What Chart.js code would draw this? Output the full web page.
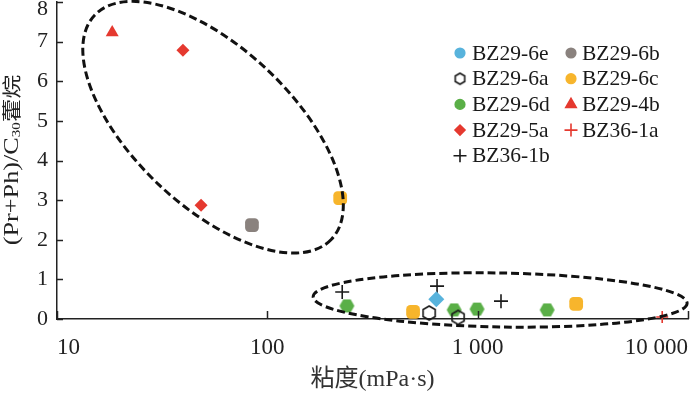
<!DOCTYPE html>
<html>
<head>
<meta charset="utf-8">
<script src="https://cdn.jsdelivr.net/npm/chart.js@4.4.1/dist/chart.umd.min.js"></script>
<style>
html,body{margin:0;padding:0;background:#fff}
canvas{display:block}
</style>
</head>
<body>
<canvas id="myScatter" width="700" height="394"></canvas>
<script>
// legend order, row by row
var seriesNames = ['BZ29-6e','BZ29-6b','BZ29-6a','BZ29-6c','BZ29-6d','BZ29-4b','BZ29-5a','BZ36-1a','BZ36-1b'];

// viscosity (mPa·s) / (Pr+Ph)/C30 hopane
var bz296e_x = [636],                 bz296e_y = [0.50];
var bz296b_x = [84.5],                bz296b_y = [2.37];
var bz296a_x = [588, 807],            bz296a_y = [0.15, 0.04];
var bz296c_x = [222, 493, 2940],      bz296c_y = [3.05, 0.18, 0.38];
var bz296d_x = [239, 773, 993, 2140], bz296d_y = [0.33, 0.23, 0.25, 0.23];
var bz294b_x = [18.3],                bz294b_y = [7.23];
var bz295a_x = [39.7, 48.4],          bz295a_y = [6.78, 2.87];
var bz361a_x = [7540],                bz361a_y = [0.05];
var bz361b_x = [227, 641, 1291],      bz361b_y = [0.68, 0.83, 0.45];

var xTicks = [10, 100, 1000, 10000];
var xTickLabels = ['10', '100', '1 000', '10 000'];
var yTicks = [0, 1, 2, 3, 4, 5, 6, 7, 8];

// dashed groupings: centre in data units, radii in px
var rings = [
    {cx: 55.2, cy: 4.84, rx: 163, ry: 79, rot: 43.4},
    {cx: 1279, cy: 0.48, rx: 187, ry: 27, rot: 1}
];

var serif = "'Liberation Serif', 'Noto Sans CJK SC', serif";
var axisColor = '#222';

function pts(xs, ys) {
    return xs.map(function (x, i) { return {x: x, y: ys[i]}; });
}

function hexagon(r, fill, stroke, turn) {
    var c = document.createElement('canvas');
    var s = Math.ceil(r * 2 + 4);
    c.width = s; c.height = s;
    var g = c.getContext('2d');
    g.beginPath();
    for (var k = 0; k < 6; k++) {
        var a = Math.PI / 3 * k + (turn || 0);
        var px = s / 2 + r * Math.cos(a), py = s / 2 + r * Math.sin(a);
        if (k) g.lineTo(px, py); else g.moveTo(px, py);
    }
    g.closePath();
    if (fill) { g.fillStyle = fill; g.fill(); }
    if (stroke) { g.lineWidth = 1.6; g.strokeStyle = stroke; g.stroke(); }
    return c;
}

var blue = '#58b3dc', gray = '#8a827e', orange = '#f7b52c', green = '#5aaf47', red = '#e5392f', black = '#1a1a1a';

function series(i, xs, ys, style, radius, color, fillIt, lgStyle, lgRadius) {
    return {
        label: seriesNames[i],
        data: pts(xs, ys),
        pointStyle: style,
        pointRadius: radius,
        pointHoverRadius: radius,
        backgroundColor: fillIt ? color : 'rgba(0,0,0,0)',
        borderColor: color,
        borderWidth: fillIt ? 0 : 1.6,
        clip: false,
        lgStyle: lgStyle,
        lgRadius: lgRadius
    };
}

var datasets = [
    series(0, bz296e_x, bz296e_y, 'rectRot', 8, blue, true, 'circle', 4.8),
    series(1, bz296b_x, bz296b_y, 'rectRounded', 8, gray, true, 'circle', 4.8),
    series(2, bz296a_x, bz296a_y, hexagon(7, null, black, Math.PI / 6), 7, black, false, hexagon(5.5, null, black, Math.PI / 6), 5.5),
    series(3, bz296c_x, bz296c_y, 'rectRounded', 8, orange, true, 'circle', 4.8),
    series(4, bz296d_x, bz296d_y, hexagon(7.5, green, null, 0), 7.5, green, true, 'circle', 4.8),
    series(5, bz294b_x, bz294b_y, 'triangle', 7.5, red, true, 'triangle', 6),
    series(6, bz295a_x, bz295a_y, 'rectRot', 6.5, red, true, 'rectRot', 5),
    series(7, bz361a_x, bz361a_y, 'cross', 6, red, false, 'cross', 6.5),
    series(8, bz361b_x, bz361b_y, 'cross', 7, black, false, 'cross', 6.5)
];

var decorations = {
    id: 'decorations',
    afterDatasetsDraw: function (chart) {
        var ctx = chart.ctx, xs = chart.scales.x, ys = chart.scales.y;
        ctx.save();
        ctx.strokeStyle = '#111';
        ctx.lineWidth = 3;
        ctx.setLineDash([8, 4]);
        rings.forEach(function (r) {
            ctx.beginPath();
            ctx.ellipse(xs.getPixelForValue(r.cx), ys.getPixelForValue(r.cy), r.rx, r.ry, r.rot * Math.PI / 180, 0, Math.PI * 2);
            ctx.stroke();
        });
        ctx.restore();
    },
    afterDraw: function (chart) {
        var ctx = chart.ctx, xs = chart.scales.x, ys = chart.scales.y, a = chart.chartArea;
        ctx.save();
        // inward tick marks
        ctx.strokeStyle = axisColor;
        ctx.lineWidth = 1.5;
        ctx.beginPath();
        yTicks.forEach(function (v) {
            var py = Math.round(ys.getPixelForValue(v)) + 0.5;
            ctx.moveTo(a.left, py); ctx.lineTo(a.left + 6, py);
        });
        xTicks.forEach(function (v) {
            var px = Math.round(xs.getPixelForValue(v)) + 0.5;
            ctx.moveTo(px, a.bottom); ctx.lineTo(px, a.bottom - 8);
        });
        ctx.stroke();

        // y tick labels
        ctx.fillStyle = axisColor;
        ctx.font = '22px ' + serif;
        ctx.textAlign = 'right';
        ctx.textBaseline = 'middle';
        yTicks.forEach(function (v) {
            ctx.fillText(String(v), a.left - 9, Math.max(ys.getPixelForValue(v), 9));
        });

        // y title with subscript, stretched along its length like the source
        ctx.translate(12, 160);
        ctx.rotate(-Math.PI / 2);
        ctx.scale(1.25, 1);
        var parts = [
            {t: '(Pr+Ph)/C', f: '21px ' + serif, dy: 0},
            {t: '30', f: '12px ' + serif, dy: 5},
            {t: '藿烷', f: "19px 'Noto Sans CJK SC', serif", dy: 0}
        ];
        var total = 0;
        parts.forEach(function (p) { ctx.font = p.f; p.w = ctx.measureText(p.t).width; total += p.w; });
        var x0 = -total / 2;
        ctx.textAlign = 'left';
        parts.forEach(function (p) {
            ctx.font = p.f;
            ctx.fillText(p.t, x0, p.dy);
            x0 += p.w;
        });
        ctx.restore();

        // legend, two columns
        ctx.save();
        ctx.font = '21.5px ' + serif;
        ctx.textBaseline = 'middle';
        ctx.textAlign = 'left';
        chart.data.datasets.forEach(function (ds, i) {
            var col = i % 2, row = Math.floor(i / 2);
            var mx = 460 + col * 111, my = 53 + row * 25.7;
            ctx.fillStyle = ds.borderColor;
            ctx.strokeStyle = ds.borderColor;
            ctx.lineWidth = 1.6;
            Chart.helpers.drawPoint(ctx, {pointStyle: ds.lgStyle, radius: ds.lgRadius, rotation: 0, borderWidth: 1.6}, mx, my);
            ctx.fillStyle = '#1a1a1a';
            ctx.fillText(ds.label, 472 + col * 110, my + 1);
        });
        ctx.restore();
    }
};

var ctx = document.getElementById('myScatter');
var myChart = new Chart(ctx, {
    type: 'scatter',
    data: {datasets: datasets},
    options: {
        responsive: false,
        animation: false,
        events: [],
        layout: {autoPadding: false, padding: {top: 2, right: 12, left: 0, bottom: 0}},
        plugins: {legend: {display: false}, tooltip: {enabled: false}},
        scales: {
            x: {
                type: 'logarithmic',
                min: 10,
                max: 10000,
                afterBuildTicks: function (scale) {
                    scale.ticks = xTicks.map(function (v) { return {value: v}; });
                },
                afterFit: function (scale) {
                    scale.height = 75;
                    scale.paddingLeft = 0;
                    scale.paddingRight = 0;
                    scale.paddingTop = 0;
                    scale.paddingBottom = 0;
                },
                grid: {display: false, drawTicks: false},
                border: {display: true, color: axisColor, width: 1.5},
                ticks: {
                    autoSkip: false,
                    maxRotation: 0,
                    align: 'inner',
                    padding: 15,
                    color: axisColor,
                    font: {family: serif, size: 23},
                    callback: function (v, i) { return xTickLabels[i]; }
                },
                title: {
                    display: true,
                    text: '粘度(mPa·s)',
                    color: '#333',
                    font: {family: serif, size: 24},
                    padding: {top: 0, bottom: 0}
                }
            },
            y: {
                min: 0,
                max: 8,
                afterFit: function (scale) {
                    scale.width = 57;
                    scale.paddingTop = 0;
                    scale.paddingBottom = 0;
                },
                grid: {display: false, drawTicks: false},
                border: {display: true, color: axisColor, width: 1.5},
                ticks: {display: false}
            }
        }
    },
    plugins: [decorations]
});
</script>
</body>
</html>
